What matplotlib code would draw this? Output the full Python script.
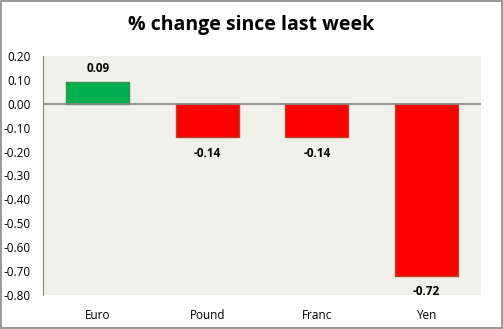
import matplotlib.pyplot as plt
import numpy as np

currencies = ['Euro', 'Pound', 'Franc', 'Yen']
changes = [0.09, -0.14, -0.14, -0.72]
yticks = [0.20, 0.10, 0.00, -0.10, -0.20, -0.30, -0.40, -0.50, -0.60, -0.70, -0.80]

plt.rcParams['font.family'] = ['Open Sans', 'DejaVu Sans']

W, H = 503, 329
fig = plt.figure(figsize=(W / 100, H / 100), dpi=100)
ax = fig.add_axes([43 / W, 1 - 295 / H, (481 - 43) / W, (295 - 56) / H])
ax.set_facecolor('#EFF0E8')

x = np.arange(len(currencies))
face = ['#00B050' if v >= 0 else '#FF0000' for v in changes]
edge = ['#3E8E4E' if v >= 0 else '#B8442E' for v in changes]
ax.bar(x, changes, width=0.575, color=face, edgecolor=edge, linewidth=1, zorder=2)

for xi, v in zip(x, changes):
    off = 0.03 if v >= 0 else -0.04
    ax.text(xi, v + off, f"{v:.2f}", ha='center', va='bottom' if v >= 0 else 'top',
            fontsize=8.5, fontweight='bold', color='#000000')

ax.axhline(0, color='#868686', lw=1.2, zorder=3)
ax.set_xlim(-0.5, len(currencies) - 0.5)
ax.set_ylim(-0.8, 0.2)
ax.set_yticks(yticks)
ax.set_yticklabels([f"{t:.2f}" for t in yticks], fontsize=8.5)
ax.set_xticks(x)
ax.set_xticklabels(currencies, fontsize=8.5)
ax.tick_params(axis='x', length=0, pad=10)
ax.tick_params(axis='y', length=0, pad=9)
for s in ['top', 'right', 'bottom']:
    ax.spines[s].set_visible(False)
ax.spines['left'].set_color('#868686')

fig.text(0.5, 1 - 25 / H, '% change since last week', ha='center', va='center',
         fontsize=14, fontweight='bold')
fig.patches.append(plt.Rectangle((0.001, 0.002), 0.997, 0.996, transform=fig.transFigure,
                                 fill=False, edgecolor='#888888', lw=1.2))

fig.savefig('out.png', dpi=100)
